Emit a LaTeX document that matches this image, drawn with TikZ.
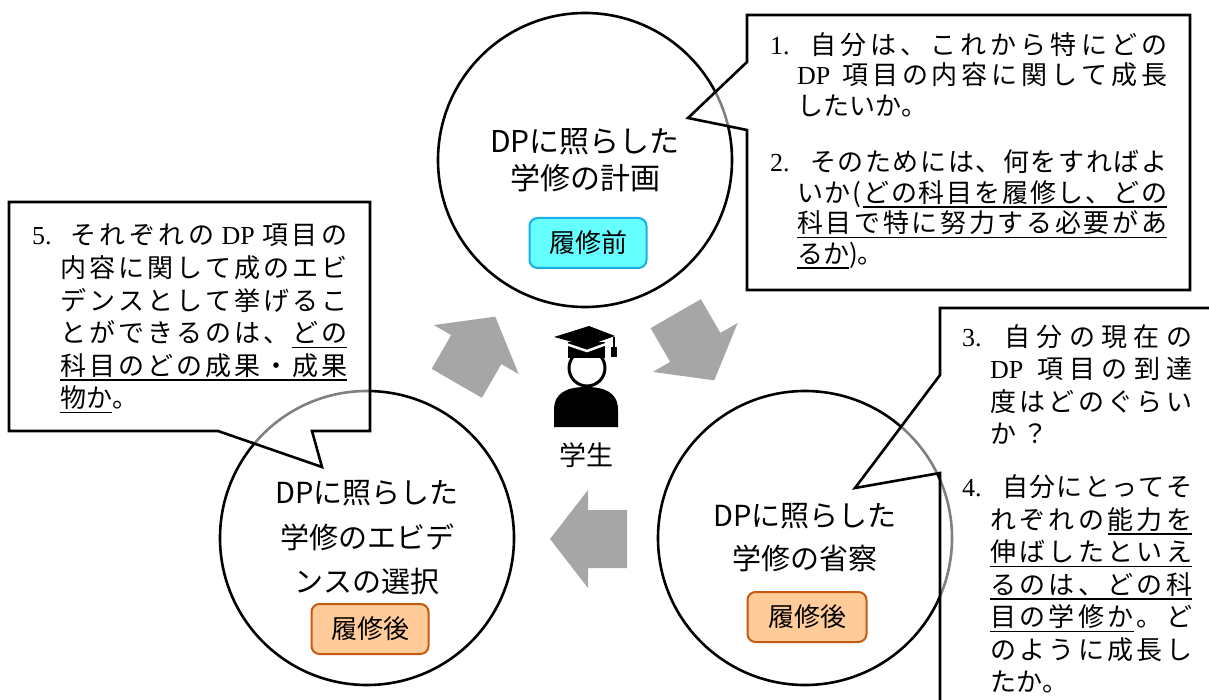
\documentclass[tikz,border=0pt]{standalone}
\usepackage{fontspec}
\setmainfont{Liberation Serif}
\newfontfamily\jp{Noto Sans CJK JP}
\usepackage{tikz}
\usetikzlibrary{positioning}
\usepackage{xcolor}

\definecolor{arrowgray}{HTML}{A6A6A6}
\definecolor{beforefill}{HTML}{66FFFF}
\definecolor{beforeline}{HTML}{1DAEEA}
\definecolor{afterfill}{HTML}{FFCC99}
\definecolor{afterline}{HTML}{C55A11}

% spread characters over a line, with or without underline
\makeatletter
\newif\iffirstch
\newcommand\jgap{\hskip 0pt plus 1fil}
\newcommand\julgap{\leaders\hrule height -4pt depth 5.6pt\hskip 0pt plus 1fil}
\newcommand\julc[1]{\setbox0\hbox{#1}\rlap{\vrule height -4pt depth 5.6pt width\wd0}\box0}
\newcommand\jspread[1]{\firstchtrue\@tfor\jch:=#1\do{\iffirstch\firstchfalse\else\jgap\fi\jch}}
\newcommand\juline[1]{\firstchtrue\@tfor\jch:=#1\do{\iffirstch\firstchfalse\else\julgap\fi\julc{\jch}}}
\makeatother
\newcommand\lat[1]{{\rmfamily #1}}
\newcommand\jfull[2]{\hbox to #1{\jp #2}}
\newcommand\jnat[1]{\hbox{\jp #1}}

\tikzset{
  stage/.style={circle, draw, line width=2.6pt, minimum size=294pt, inner sep=0pt,
    align=center},
  badge/.style={rounded corners=8pt, line width=2pt, minimum width=117pt,
    minimum height=50pt, inner sep=0pt, font=\jp\fontsize{26}{26}\selectfont},
  before/.style={fill=beforefill, draw=beforeline},
  after/.style={fill=afterfill, draw=afterline},
  callout/.style={draw, line width=2.6pt, fill=white, fill opacity=0.5},
  calltext/.style={anchor=north west, inner sep=0pt, align=left},
  blockarrow/.pic={\fill[arrowgray] (-38.5,-29) -- (0.5,-29) -- (0.5,-49) -- (38.5,0)
    -- (0.5,49) -- (0.5,29) -- (-38.5,29) -- cycle;}
}

\begin{document}
\begin{tikzpicture}[x=1pt, y=-1pt, text=black]
\useasboundingbox (0,0) rectangle (1209,700);

% three stages
\node (plan) [stage, font=\jp\fontsize{30}{37}\selectfont] at (585,160)
    {DPに照らした\\学修の計画};
\node (evidence) [stage, font=\jp\fontsize{29}{44.5}\selectfont] at (367,538)
    {DPに照らした\\学修のエビデ\\ンスの選択};
\node (reflect) [stage, font=\jp\fontsize{29}{43}\selectfont] at (805,538)
    {DPに照らした\\学修の省察};

\node (planbadge) [badge, before] at (588,243) {履修前};
\node (evidencebadge) [badge, after] at (370,629) {履修後};
\node (reflectbadge) [badge, after, minimum width=119pt] at (807,617) {履修後};

% cycle arrows
\pic[rotate=-60] at (695,347) {blockarrow};
\pic[rotate=180] at (588.5,539) {blockarrow};
\pic[rotate=60] at (476,350) {blockarrow};

% student
\draw[line width=3pt, fill=white] (587,368) circle (18);
\fill (554,427) -- (554,410) .. controls (554,392) and (568,387) .. (586,387)
    .. controls (604,387) and (618,392) .. (618,410) -- (618,427) -- cycle;
\fill (568,342) -- (605,342) -- (605,358) -- (568,358) -- cycle;
\draw[white, line width=2.5pt] (563,343) -- (587,351) -- (609,343);
\fill (554,337) -- (589,326) -- (615,336) -- (587,346) -- cycle;
\draw[line width=1.5pt] (614,337) -- (614,349);
\fill (610.5,347) rectangle (616.5,357);
\node (studentlabel) [font=\jp\fontsize{27}{27}\selectfont] at (586,455) {学生};

% callouts
\draw[callout] (747,15) -- (1190,15) -- (1190,290) -- (747,290) -- (747,130)
    -- (688,118) -- (747,62) -- cycle;
\draw[callout] (940,308) -- (1230,308) -- (1230,720) -- (940,720) -- (940,473)
    -- (855,488) -- (940,375) -- cycle;
\draw[callout] (9,202) -- (370,202) -- (370,431) -- (312,431) -- (322,467)
    -- (218,431) -- (9,431) -- cycle;

\node (plannote) [calltext, font=\fontsize{26}{30.5}\selectfont] at (770,32) {%
\makebox[40pt][l]{1.}\jfull{357pt}{\jspread{自分は、これから特にどの}}\\
\hspace*{27pt}\jfull{370pt}{\jspread{{\lat{DP}\hspace{8pt}}項目の内容に関して成長}}\\
\hspace*{27pt}\jnat{\jspread{したいか。}}\\[26pt]
\makebox[40pt][l]{2.}\jfull{357pt}{\jspread{そのためには、何をすればよ}}\\
\hspace*{27pt}\jfull{370pt}{\jspread{いか(}\jgap\juline{どの科目を履修し、どの}}\\
\hspace*{27pt}\jfull{370pt}{\juline{科目で特に努力する必要があ}}\\
\hspace*{27pt}\jnat{\juline{るか}\jspread{)。}}};

\node (reflectnote) [calltext, font=\fontsize{26}{32.5}\selectfont] at (962,324) {%
\makebox[42pt][l]{3.}\jfull{188pt}{\jspread{自分の現在の}}\\
\hspace*{28pt}\jfull{202pt}{\jspread{{\lat{DP}\hspace{8pt}}項目の到達}}\\
\hspace*{28pt}\jfull{202pt}{\jspread{度はどのぐらい}}\\
\hspace*{28pt}\jnat{\jspread{か{\hspace{6pt}}？}}\\[20.5pt]
\makebox[40pt][l]{4.}\jfull{190pt}{\jspread{自分にとってそ}}\\
\hspace*{28pt}\jfull{202pt}{\jspread{れぞれの}\jgap\juline{能力を}}\\
\hspace*{28pt}\jfull{202pt}{\juline{伸ばしたといえ}}\\
\hspace*{28pt}\jfull{202pt}{\juline{るのは、どの科}}\\
\hspace*{28pt}\jfull{202pt}{\juline{目の学修か}\jgap\jspread{。ど}}\\
\hspace*{28pt}\jfull{202pt}{\jspread{のように成長し}}\\
\hspace*{28pt}\jnat{\jspread{たか。}}};

\node (evidencenote) [calltext, font=\fontsize{26}{32.6}\selectfont] at (32,224) {%
\makebox[38pt][l]{5.}\jfull{277pt}{\jspread{それぞれの{\hspace{4pt}\lat{DP}\hspace{4pt}}項目の}}\\
\hspace*{28pt}\jfull{287pt}{\jspread{内容に関して成のエビ}}\\
\hspace*{28pt}\jfull{287pt}{\jspread{デンスとして挙げるこ}}\\
\hspace*{28pt}\jfull{287pt}{\jspread{とができるのは、}\jgap\juline{どの}}\\
\hspace*{28pt}\jfull{287pt}{\juline{科目のどの成果・成果}}\\
\hspace*{28pt}\jnat{\juline{物か}\jspread{。}}};

\end{tikzpicture}
\end{document}
